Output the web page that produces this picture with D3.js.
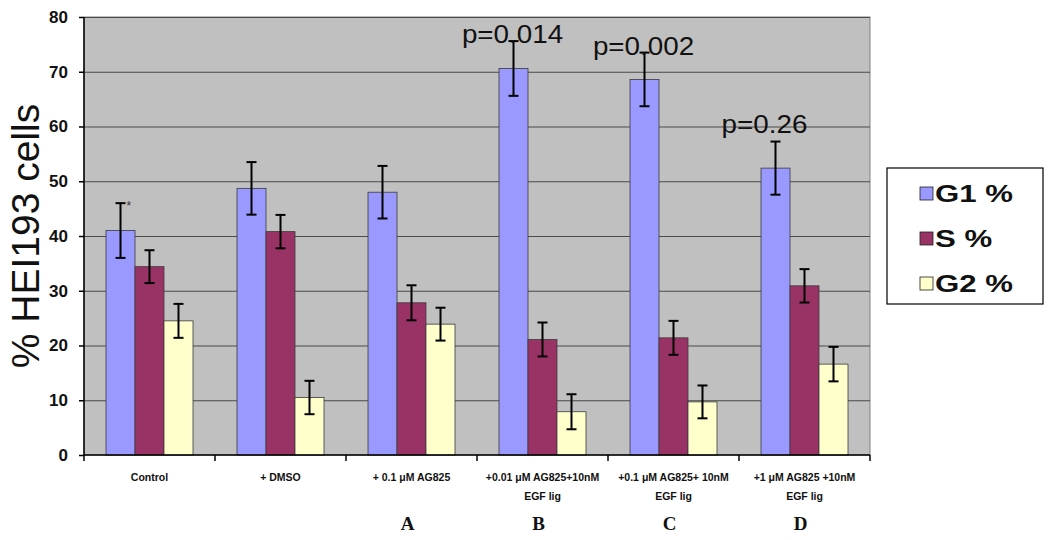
<!DOCTYPE html>
<html>
<head>
<meta charset="utf-8">
<script src="https://cdn.jsdelivr.net/npm/d3@7/dist/d3.min.js"></script>
<style>
  html, body { margin: 0; padding: 0; background: #ffffff; }
  svg { display: block; }
</style>
</head>
<body>
<svg id="chart" width="1050" height="540"></svg>
<script>
// ---- data ----
const categories = ["Control", "+ DMSO", "+ 0.1 μM AG825", "+0.01 μM AG825+10nM", "+0.1 μM AG825+ 10nM", "+1 μM AG825 +10nM"];
const categoryLine2 = ["", "", "", "EGF lig", "EGF lig", "EGF lig"];
const groupLetters = ["", "", "A", "B", "C", "D"];
const seriesNames = ["G1 %", "S %", "G2 %"];
const g1Values = [41.0, 48.7, 48.0, 70.6, 68.6, 52.4];
const sValues = [34.4, 40.8, 27.8, 21.1, 21.4, 30.9];
const g2Values = [24.5, 10.5, 23.9, 7.9, 9.7, 16.6];
const g1Err = [5.0, 4.8, 4.8, 5.0, 4.9, 4.85];
const sErr = [3.0, 3.05, 3.2, 3.1, 3.1, 3.05];
const g2Err = [3.1, 3.05, 3.0, 3.2, 3.0, 3.15];
const pLabels = ["", "", "", "p=0.014", "p=0.002", "p=0.26"];
const yTicks = [0, 10, 20, 30, 40, 50, 60, 70, 80];
const seriesColors = ["#9999FF", "#993366", "#FFFFCC"];

const seriesValues = [g1Values, sValues, g2Values];
const seriesErrs = [g1Err, sErr, g2Err];

// ---- layout ----
const svg = d3.select("#chart");
const plot = { left: 84, right: 870, top: 17, bottom: 455 };

const x0 = d3.scaleBand().domain(categories).range([plot.left, plot.right]).padding(0);
const x1 = d3.scaleBand().domain(seriesNames).range([0, x0.bandwidth()]).paddingInner(0).paddingOuter(0.759);
const y = d3.scaleLinear().domain([0, 80]).range([plot.bottom, plot.top]);

// plot background
svg.append("rect")
  .attr("x", plot.left).attr("y", plot.top)
  .attr("width", plot.right - plot.left).attr("height", plot.bottom - plot.top)
  .attr("fill", "#C0C0C0").attr("stroke", "#808080").attr("stroke-width", 1);

// gridlines
svg.append("g")
  .selectAll("line")
  .data(yTicks.filter(d => d > 0))
  .join("line")
  .attr("x1", plot.left).attr("x2", plot.right)
  .attr("y1", d => y(d) + 0.5).attr("y2", d => y(d) + 0.5)
  .attr("stroke", "#4a4a4a").attr("stroke-width", 1);

// bars
const groups = svg.append("g")
  .selectAll("g")
  .data(categories.map((c, i) => ({ c, i })))
  .join("g")
  .attr("transform", d => `translate(${x0(d.c)},0)`);

groups.selectAll("rect")
  .data(d => seriesNames.map((s, k) => ({ s, k, v: seriesValues[k][d.i], e: seriesErrs[k][d.i] })))
  .join("rect")
  .attr("x", d => x1(d.s))
  .attr("y", d => y(d.v))
  .attr("width", x1.bandwidth())
  .attr("height", d => y(0) - y(d.v))
  .attr("fill", d => seriesColors[d.k])
  .attr("stroke", "#3a3a3a").attr("stroke-width", 0.8);

// error bars
const eb = groups.selectAll("g.err")
  .data(d => seriesNames.map((s, k) => ({ s, k, v: seriesValues[k][d.i], e: seriesErrs[k][d.i] })))
  .join("g").attr("class", "err");
eb.append("line")
  .attr("x1", d => x1(d.s) + x1.bandwidth() / 2).attr("x2", d => x1(d.s) + x1.bandwidth() / 2)
  .attr("y1", d => y(d.v + d.e)).attr("y2", d => y(d.v - d.e))
  .attr("stroke", "#000").attr("stroke-width", 2);
eb.selectAll("line.cap")
  .data(d => [d.v + d.e, d.v - d.e].map(t => ({ t, d })))
  .join("line").attr("class", "cap")
  .attr("x1", o => x1(o.d.s) + x1.bandwidth() / 2 - 5).attr("x2", o => x1(o.d.s) + x1.bandwidth() / 2 + 5)
  .attr("y1", o => y(o.t)).attr("y2", o => y(o.t))
  .attr("stroke", "#000").attr("stroke-width", 2);

// asterisk on control G1
svg.append("text")
  .attr("x", x0(categories[0]) + x1(seriesNames[0]) + x1.bandwidth() / 2 + 6)
  .attr("y", y(g1Values[0] + g1Err[0]) + 7)
  .attr("font-family", "Arial, 'Liberation Sans', sans-serif")
  .attr("font-size", 12).attr("fill", "#333")
  .text("*");

// p labels
svg.append("g")
  .selectAll("text")
  .data(categories.map((c, i) => ({ c, i })).filter(d => pLabels[d.i]))
  .join("text")
  .attr("transform", d => {
    const cx = x0(d.c) + x1(seriesNames[0]) + x1.bandwidth() / 2 + (d.i === 5 ? -11 : -1);
    const cy = y(g1Values[d.i] + g1Err[d.i]) + (d.i === 5 ? -9 : 2);
    return `translate(${cx},${cy}) scale(1.07,1)`;
  })
  .attr("text-anchor", "middle")
  .attr("font-family", "Arial, 'Liberation Sans', sans-serif")
  .attr("font-size", 26).attr("fill", "#111")
  .text(d => pLabels[d.i]);

// y axis
const yAxis = d3.axisLeft(y).tickValues(yTicks).tickSize(5).tickPadding(11);
const ya = svg.append("g").attr("transform", `translate(${plot.left},0)`).call(yAxis);
ya.select(".domain").attr("stroke", "#000").attr("stroke-width", 1.5).attr("d", `M0,${plot.top}V${plot.bottom}`);
ya.selectAll(".tick line").attr("stroke", "#000").attr("stroke-width", 1.5);
ya.selectAll(".tick text")
  .attr("font-family", "Arial, 'Liberation Sans', sans-serif")
  .attr("font-size", 17).attr("font-weight", "bold").attr("fill", "#111");

// x axis line and ticks at category boundaries
const boundaries = categories.map(c => x0(c)).concat([plot.right]);
svg.append("line")
  .attr("x1", plot.left).attr("x2", plot.right)
  .attr("y1", plot.bottom).attr("y2", plot.bottom)
  .attr("stroke", "#000").attr("stroke-width", 1.5);
svg.append("g").selectAll("line")
  .data(boundaries)
  .join("line")
  .attr("x1", d => d).attr("x2", d => d)
  .attr("y1", plot.bottom).attr("y2", plot.bottom + 6)
  .attr("stroke", "#000").attr("stroke-width", 1.5);

// category labels
const cl = svg.append("g")
  .attr("font-family", "Arial, 'Liberation Sans', sans-serif")
  .attr("font-size", 10.5).attr("font-weight", "bold").attr("fill", "#111")
  .attr("text-anchor", "middle");
cl.selectAll("text.l1")
  .data(categories)
  .join("text").attr("class", "l1")
  .attr("x", d => x0(d) + x0.bandwidth() / 2)
  .attr("y", 481)
  .text(d => d);
cl.selectAll("text.l2")
  .data(categories.map((c, i) => ({ c, t: categoryLine2[i] })).filter(d => d.t))
  .join("text").attr("class", "l2")
  .attr("x", d => x0(d.c) + x0.bandwidth() / 2)
  .attr("y", 500)
  .text(d => d.t);

// group letters
svg.append("g")
  .selectAll("text")
  .data(categories.map((c, i) => ({ c, t: groupLetters[i] })).filter(d => d.t))
  .join("text")
  .attr("x", d => x0(d.c) + x0.bandwidth() / 2 - 4)
  .attr("y", 530)
  .attr("text-anchor", "middle")
  .attr("font-family", "'Liberation Serif', 'Times New Roman', serif")
  .attr("font-size", 19).attr("font-weight", "bold").attr("fill", "#111")
  .text(d => d.t);

// y title
svg.append("text")
  .attr("transform", `translate(39,${(plot.top + plot.bottom) / 2}) rotate(-90)`)
  .attr("text-anchor", "middle")
  .attr("font-family", "Arial, 'Liberation Sans', sans-serif")
  .attr("font-size", 39).attr("fill", "#111")
  .text("% HEI193 cells");

// legend
const lg = svg.append("g").attr("transform", "translate(887,168)");
lg.append("rect").attr("x", 0).attr("y", 0).attr("width", 156).attr("height", 136)
  .attr("fill", "#fff").attr("stroke", "#000").attr("stroke-width", 1.2);
const items = lg.selectAll("g.item")
  .data(seriesNames.map((s, k) => ({ s, k })))
  .join("g").attr("class", "item")
  .attr("transform", d => `translate(0,${25 + d.k * 45})`);
items.append("rect")
  .attr("x", 33).attr("y", -6).attr("width", 13).attr("height", 13)
  .attr("fill", d => seriesColors[d.k]).attr("stroke", "#222").attr("stroke-width", 0.8);
items.append("text")
  .attr("transform", "translate(48,9) scale(1.3,1)")
  .attr("font-family", "Arial, 'Liberation Sans', sans-serif")
  .attr("font-size", 24).attr("font-weight", "bold").attr("fill", "#111")
  .text(d => d.s);
</script>
</body>
</html>
